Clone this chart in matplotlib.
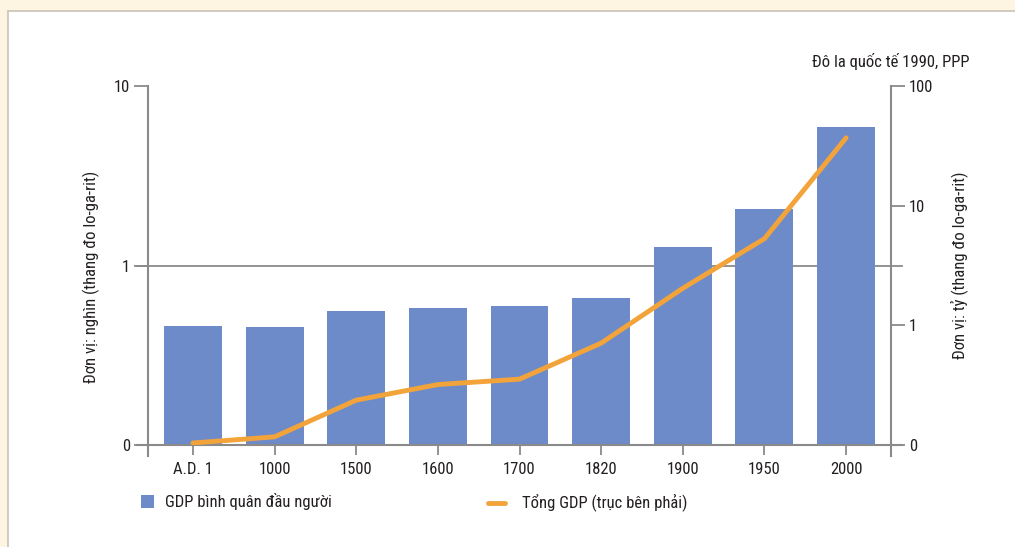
import matplotlib
matplotlib.use("Agg")
import matplotlib.pyplot as plt
import numpy as np
from matplotlib.patches import Rectangle
from matplotlib.lines import Line2D

plt.rcParams['font.family'] = ['Roboto Condensed', 'DejaVu Sans']

# du lieu doc tu hinh
years = ["A.D. 1", "1000", "1500", "1600", "1700", "1820", "1900", "1950", "2000"]
gdp_per_capita = [0.46, 0.453, 0.557, 0.58, 0.595, 0.659, 1.27, 2.07, 5.91]   # nghin
gdp_total = [0.104, 0.117, 0.237, 0.32, 0.355, 0.71, 2.04, 5.3, 36.9]          # truc phai

left_ticks = [0.1, 1, 10]
left_ticklabels = ["0", "1", "10"]
right_ticks = [0.1, 1, 10, 100]
right_ticklabels = ["0", "1", "10", "100"]

bar_color = "#6D8BC9"
line_color = "#F2A33A"
axis_color = "#8A8A8A"
text_color = "#231F20"
FS = 12

fig = plt.figure(figsize=(10.15, 5.47), dpi=100)
fig.patch.set_facecolor("#FEF4E2")

# panel trang
W, H = 1015, 547
fig.add_artist(Rectangle((8 / W, -0.01), 1, 1.01 - 11 / H, transform=fig.transFigure,
                         facecolor="white", edgecolor="#C9C2B6", linewidth=1.2, zorder=0))

ax = fig.add_axes([148 / W, (H - 445) / H, (891 - 148) / W, (445 - 86) / H])
ax.set_facecolor("none")
x = np.arange(len(years))

ax.set_yscale("log")
ax.set_ylim(0.1, 10)
ax.set_xlim(-0.55, len(years) - 0.45)

# duong luoi o muc 1, keo dai ra hai ben
ax.plot([-0.015, 1.015], [1, 1], transform=ax.get_yaxis_transform(), color=axis_color,
        lw=1.3, clip_on=False, zorder=1)
ax.plot([-0.015, 1.015], [0.1, 0.1], transform=ax.get_yaxis_transform(), color=axis_color,
        lw=1.5, clip_on=False, zorder=4)
# cot bat dau tu day truc (0.1)
ax.bar(x, np.array(gdp_per_capita) - 0.1, bottom=0.1, width=0.71, color=bar_color, zorder=2)

for s in ax.spines.values():
    s.set_visible(False)
ax.plot([0, 0], [-0.03, 1], transform=ax.transAxes, color=axis_color, lw=1.5, clip_on=False)
ax.plot([1, 1], [-0.03, 1], transform=ax.transAxes, color=axis_color, lw=1.5, clip_on=False)

ax.set_yticks(left_ticks)
ax.set_yticklabels(left_ticklabels)
ax.yaxis.set_minor_locator(matplotlib.ticker.NullLocator())
ax.tick_params(axis="y", length=10, width=1.3, color=axis_color, labelcolor=text_color,
               labelsize=FS, pad=3)
ax.set_xticks(x)
ax.set_xticklabels(years)
ax.tick_params(axis="x", length=7, width=1.3, color=axis_color, labelcolor=text_color,
               labelsize=FS, pad=5)
ax.set_ylabel("Đơn vị: nghìn (thang đo lo-ga-rit)", fontsize=FS, color=text_color, labelpad=10)
ax.yaxis.label.set_y(0.468)

ax2 = ax.twinx()
ax2.set_yscale("log")
ax2.set_ylim(0.1, 100)
for s in ax2.spines.values():
    s.set_visible(False)
ax2.plot(x, gdp_total, color=line_color, lw=3.5, solid_capstyle="round", zorder=5)
ax2.set_yticks(right_ticks)
ax2.set_yticklabels(right_ticklabels)
ax2.yaxis.set_minor_locator(matplotlib.ticker.NullLocator())
ax2.tick_params(axis="y", length=10, width=1.3, color=axis_color, labelcolor=text_color,
                labelsize=FS, pad=3)
ax2.set_ylabel("Đơn vị: tỷ (thang đo lo-ga-rit)", fontsize=FS, color=text_color, labelpad=12)

fig.text(891 / W, 1 - 62 / H, "Đô la quốc tế 1990, PPP", ha="center", va="center",
         fontsize=FS, color=text_color)

# chu giai
fig.add_artist(Rectangle((141 / W, 1 - 508 / H), 13 / W, 13 / H, transform=fig.transFigure,
                         facecolor=bar_color, edgecolor="none"))
fig.text(165 / W, 1 - 502 / H, "GDP bình quân đầu người", ha="left", va="center",
         fontsize=FS, color=text_color)
fig.add_artist(Line2D([488 / W, 505 / W], [1 - 503 / H, 1 - 503 / H], transform=fig.transFigure,
                      color=line_color, lw=3.5, solid_capstyle="round"))
fig.text(522 / W, 1 - 502 / H, "Tổng GDP (trục bên phải)", ha="left", va="center",
         fontsize=FS, color=text_color)

fig.savefig("out.png", dpi=100, facecolor=fig.get_facecolor())
